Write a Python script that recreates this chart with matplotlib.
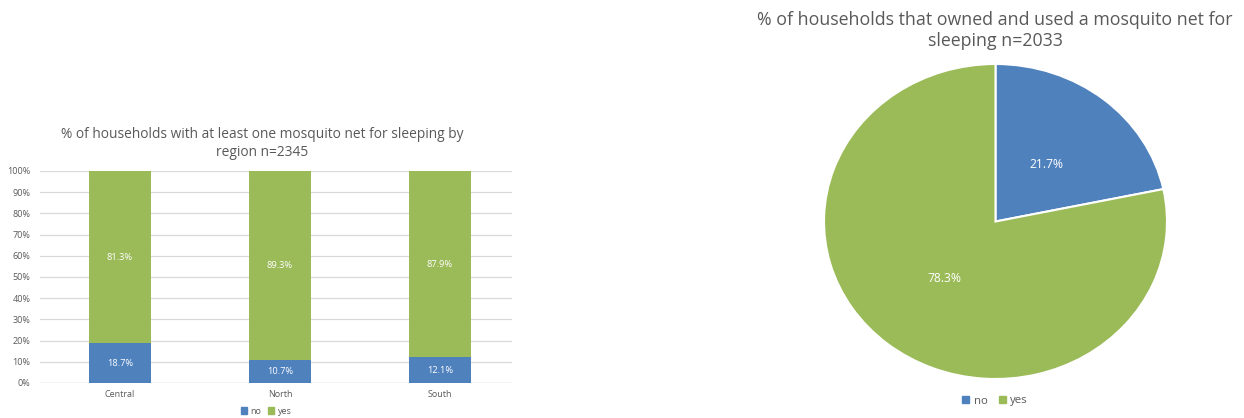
import matplotlib
matplotlib.use("Agg")
import matplotlib.pyplot as plt
from matplotlib.patches import Patch

# ---- data ----
regions = ["Central", "North", "South"]
no_vals = [18.7, 10.7, 12.1]
yes_vals = [81.3, 89.3, 87.9]
pie_labels = ["no", "yes"]
pie_vals = [21.7, 78.3]
yticks = [0, 10, 20, 30, 40, 50, 60, 70, 80, 90, 100]

BLUE = "#4F81BD"
GREEN = "#9BBB59"
GRAY = "#595959"
FONT = "Open Sans"
plt.rcParams["font.family"] = [FONT, "DejaVu Sans"]

W, H = 1244, 418
fig = plt.figure(figsize=(W / 100, H / 100), dpi=100)

def fx(px):
    return px / W

def fy(py):
    return 1 - py / H

# ---- bar chart ----
ax = fig.add_axes([fx(40), fy(383), fx(512) - fx(40), fy(171) - fy(383)])
x = list(range(len(regions)))
bw = 0.39
ax.bar(x, no_vals, width=bw, color=BLUE, zorder=3)
ax.bar(x, yes_vals, width=bw, bottom=no_vals, color=GREEN, zorder=3)
for i in x:
    ax.text(i, no_vals[i] / 2, f"{no_vals[i]:.1f}%", ha="center", va="center",
            color="white", fontsize=6.7, zorder=4)
    ax.text(i, no_vals[i] + yes_vals[i] / 2, f"{yes_vals[i]:.1f}%", ha="center",
            va="center", color="white", fontsize=6.7, zorder=4)
ax.set_xlim(-0.5, 2.45)
ax.set_ylim(0, 100)
ax.set_yticks(yticks)
ax.set_yticklabels([f"{t}%" for t in yticks])
ax.set_xticks(x)
ax.set_xticklabels(regions)
ax.tick_params(axis="both", length=0, labelsize=6.5, colors=GRAY)
ax.tick_params(axis="y", pad=7)
ax.tick_params(axis="x", pad=5)
ax.grid(axis="y", color="#D9D9D9", linewidth=0.9, zorder=0)
for s in ax.spines.values():
    s.set_visible(False)
ax.axhline(0, color="#D9D9D9", linewidth=0.9, zorder=1)

fig.text(fx(262), fy(134), "% of households with at least one mosquito net for sleeping by",
         ha="center", va="center", fontsize=9.9, color=GRAY)
fig.text(fx(262), fy(152), "region n=2345", ha="center", va="center",
         fontsize=9.9, color=GRAY)

handles = [Patch(color=BLUE, label="no"), Patch(color=GREEN, label="yes")]
fig.legend(handles=handles, loc="center", bbox_to_anchor=(fx(266), fy(411)), ncol=2,
           frameon=False, fontsize=6.5, handlelength=0.7, handleheight=0.7,
           handletextpad=0.4, columnspacing=0.7, labelcolor=GRAY)

# ---- pie chart ----
pax = fig.add_axes([fx(824), fy(379), fx(1167) - fx(824), fy(64) - fy(379)])
wedges, texts, autotexts = pax.pie(
    pie_vals, colors=[BLUE, GREEN], startangle=90, counterclock=False,
    autopct="%1.1f%%", pctdistance=0.47,
    wedgeprops=dict(edgecolor="white", linewidth=1.5),
    textprops=dict(color="white", fontsize=8.7))
pax.set_aspect("auto")
pax.set_xlim(-1, 1)
pax.set_ylim(-1, 1)

fig.text(fx(995), fy(20), "% of households that owned and used a mosquito net for",
         ha="center", va="center", fontsize=12.8, color=GRAY)
fig.text(fx(995), fy(41), "sleeping n=2033", ha="center", va="center",
         fontsize=12.8, color=GRAY)

handles2 = [Patch(color=BLUE, label="no"), Patch(color=GREEN, label="yes")]
fig.legend(handles=handles2, loc="center", bbox_to_anchor=(fx(995), fy(401)), ncol=2,
           frameon=False, fontsize=8.2, handlelength=0.6, handleheight=0.6,
           handletextpad=0.4, columnspacing=1.0, labelcolor=GRAY)

fig.savefig("out.png", dpi=100)
